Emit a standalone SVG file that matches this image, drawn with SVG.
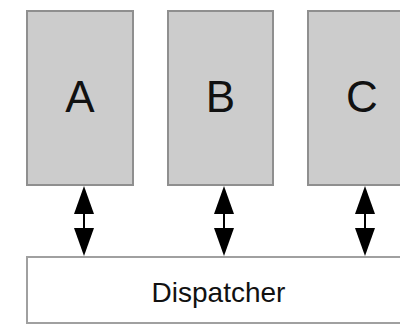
<svg xmlns="http://www.w3.org/2000/svg" width="400" height="325" viewBox="0 0 400 325">
  <style>
    .comp { fill: #cccccc; stroke: #8f8f8f; stroke-width: 2; }
    .disp { fill: #ffffff; stroke: #a0a0a0; stroke-width: 2; }
    .big { font-family: "Liberation Sans", Arial, sans-serif; font-size: 44px; fill: #111; text-anchor: middle; }
    .lbl { font-family: "Liberation Sans", Arial, sans-serif; font-size: 28px; fill: #111; text-anchor: middle; }
    .shaft { stroke: #000; stroke-width: 2; }
    .head { fill: #000; }
  </style>
  <rect width="400" height="325" fill="#ffffff"/>

  <g id="nodeA">
    <rect class="comp" x="27" y="11" width="106" height="174"/>
    <text class="big" x="80" y="112">A</text>
  </g>
  <g id="nodeB">
    <rect class="comp" x="168" y="11" width="105" height="174"/>
    <text class="big" x="220.5" y="112">B</text>
  </g>
  <g id="nodeC">
    <rect class="comp" x="308" y="11" width="106" height="174"/>
    <text class="big" x="362" y="112">C</text>
  </g>
  <g id="dispatcher">
    <rect class="disp" x="27" y="257" width="383" height="66"/>
    <text class="lbl" x="218.5" y="302">Dispatcher</text>
  </g>

  <g id="connectors">
    <g transform="translate(84,0)">
      <line class="shaft" x1="0" y1="200" x2="0" y2="240"/>
      <polygon class="head" points="0,186 10,214 -10,214"/>
      <polygon class="head" points="0,256 10,228 -10,228"/>
    </g>
    <g transform="translate(224,0)">
      <line class="shaft" x1="0" y1="200" x2="0" y2="240"/>
      <polygon class="head" points="0,186 10,214 -10,214"/>
      <polygon class="head" points="0,256 10,228 -10,228"/>
    </g>
    <g transform="translate(365,0)">
      <line class="shaft" x1="0" y1="200" x2="0" y2="240"/>
      <polygon class="head" points="0,186 10,214 -10,214"/>
      <polygon class="head" points="0,256 10,228 -10,228"/>
    </g>
  </g>
</svg>
